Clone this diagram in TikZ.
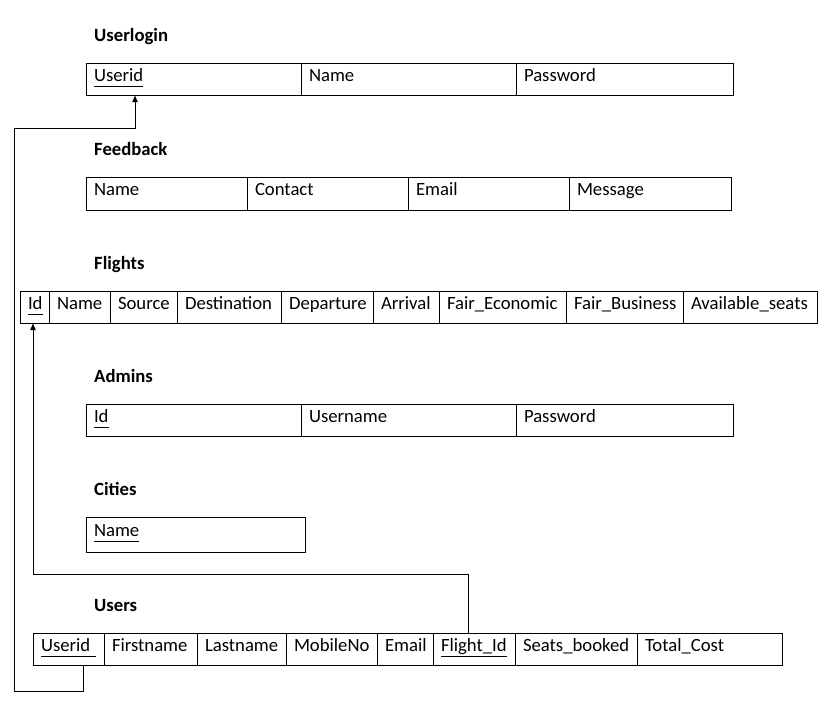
\documentclass[tikz,border=0pt]{standalone}
\usepackage{fontspec}
\setmainfont{Carlito}
\usetikzlibrary{arrows.meta}
\newcommand\pkey[1]{\setbox0\hbox{#1}\rlap{\rule[-5.5pt]{\wd0}{1pt}}\box0}
\begin{document}
\begin{tikzpicture}[x=1pt,y=-1pt,
    every node/.style={font=\fontsize{18.7}{22}\selectfont},
    cell/.style={draw, line width=1pt, outer sep=0, anchor=north west, minimum width=#1, minimum height=32,
        text width=#1-16, align=left, inner xsep=8, inner ysep=0, text height=13, text depth=9},
    title/.style={anchor=base west, inner sep=0, font=\fontsize{18.7}{22}\selectfont\bfseries},
    fk/.style={line width=1pt, -{Latex[length=7pt,width=6pt]}}]
    \useasboundingbox (0,0) rectangle (820,715);
    \node[title] (tul) at (94,41) {Userlogin};
    \node[cell=215] (ul1) at (86,63) {\pkey{Userid}};
    \node[cell=215] (ul2) at (ul1.north east) {Name};
    \node[cell=217] (ul3) at (ul2.north east) {Password};
    \node[title] (tfb) at (94,155) {Feedback};
    \node[cell=161, minimum height=33] (fb1) at (86,177) {Name};
    \node[cell=161, minimum height=33] (fb2) at (fb1.north east) {Contact};
    \node[cell=161, minimum height=33] (fb3) at (fb2.north east) {Email};
    \node[cell=162, minimum height=33] (fb4) at (fb3.north east) {Message};
    \node[title] (tfl) at (94,269) {Flights};
    \node[cell=29] (fl1) at (20,291) {\pkey{Id}};
    \node[cell=61] (fl2) at (fl1.north east) {Name};
    \node[cell=67] (fl3) at (fl2.north east) {Source};
    \node[cell=104] (fl4) at (fl3.north east) {Destination};
    \node[cell=92] (fl5) at (fl4.north east) {Departure};
    \node[cell=66] (fl6) at (fl5.north east) {Arrival};
    \node[cell=127] (fl7) at (fl6.north east) {Fair\_Economic};
    \node[cell=117] (fl8) at (fl7.north east) {Fair\_Business};
    \node[cell=134] (fl9) at (fl8.north east) {Available\_seats};
    \node[title] (tad) at (94,382) {Admins};
    \node[cell=215] (ad1) at (86,404) {\pkey{Id}};
    \node[cell=215] (ad2) at (ad1.north east) {Username};
    \node[cell=217] (ad3) at (ad2.north east) {Password};
    \node[title] (tci) at (94,495) {Cities};
    \node[cell=219, minimum height=35] (ci1) at (86,517) {\pkey{Name}};
    \node[title] (tus) at (94,611) {Users};
    \node[cell=71] (us1) at (33,633) {\pkey{Userid\ }};
    \node[cell=93] (us2) at (us1.north east) {Firstname};
    \node[cell=89] (us3) at (us2.north east) {Lastname};
    \node[cell=91] (us4) at (us3.north east) {MobileNo};
    \node[cell=56] (us5) at (us4.north east) {Email};
    \node[cell=82] (us6) at (us5.north east) {\pkey{Flight\_Id}};
    \node[cell=122] (us7) at (us6.north east) {Seats\_booked};
    \node[cell=145] (us8) at (us7.north east) {Total\_Cost};
    \draw[fk] ([xshift=14.5]us1.south) -- ++(0,26) -| (14,128) -| ([xshift=-58.5]ul1.south);
    \draw[fk] ([xshift=-6]us6.north) -- ++(0,-59) -| ([xshift=-1.5]fl1.south);
\end{tikzpicture}
\end{document}
